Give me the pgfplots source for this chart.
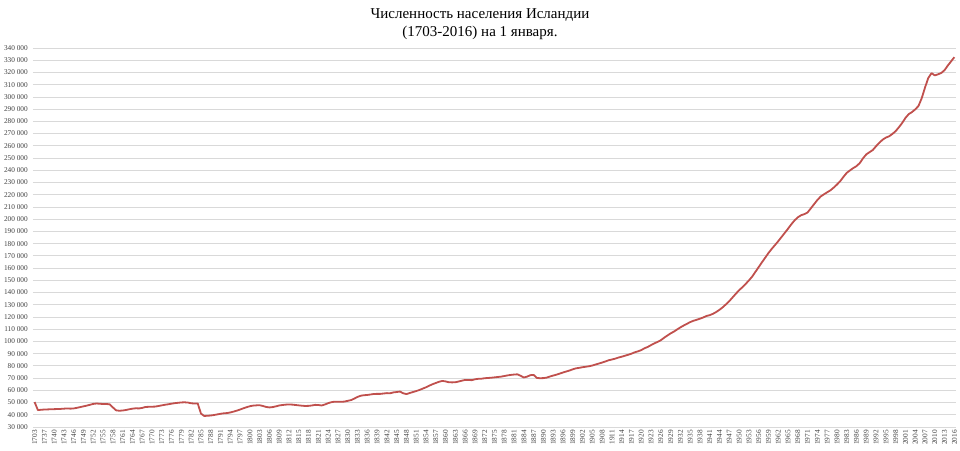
\documentclass[border=0pt]{standalone}
\usepackage{fontspec}
\setmainfont{Liberation Serif}
\usepackage{pgfplots}
\usepackage{pgfplotstable}
\pgfplotsset{compat=1.18}
\definecolor{popline}{RGB}{192,80,77}
\definecolor{gridc}{RGB}{217,217,217}
\pgfplotstableread{
year pop
1703 50400
1735 43800
1736 44100
1737 44300
1738 44400
1739 44500
1740 44600
1741 44700
1742 44800
1743 45000
1744 45200
1745 45000
1746 45200
1747 45700
1748 46300
1749 46900
1750 47500
1751 48200
1752 48900
1753 49200
1754 49000
1755 48800
1756 48800
1757 48600
1758 46000
1759 43600
1760 43300
1761 43500
1762 43900
1763 44500
1764 45000
1765 45300
1766 45200
1767 45600
1768 46400
1769 46500
1770 46600
1771 46700
1772 47200
1773 47700
1774 48200
1775 48600
1776 49100
1777 49500
1778 49800
1779 50100
1780 50200
1781 50000
1782 49400
1783 49200
1784 49300
1785 41000
1786 39000
1787 39200
1788 39400
1789 39800
1790 40300
1791 40800
1792 41200
1793 41400
1794 41900
1795 42600
1796 43400
1797 44300
1798 45300
1799 46200
1800 47000
1801 47500
1802 47700
1803 47800
1804 47200
1805 46400
1806 46000
1807 46300
1808 46900
1809 47600
1810 48000
1811 48300
1812 48400
1813 48300
1814 48000
1815 47700
1816 47400
1817 47200
1818 47300
1819 47600
1820 48100
1821 48000
1822 47600
1823 48400
1824 49500
1825 50300
1826 50700
1827 50600
1828 50600
1829 50800
1830 51400
1831 52000
1832 53200
1833 54600
1834 55600
1835 56000
1836 56200
1837 56600
1838 57000
1839 57100
1840 57100
1841 57400
1842 57700
1843 57600
1844 58300
1845 58600
1846 59000
1847 57600
1848 56900
1849 57800
1850 58600
1851 59400
1852 60300
1853 61400
1854 62500
1855 63800
1856 65000
1857 66000
1858 67000
1859 67700
1860 67300
1861 66600
1862 66500
1863 66600
1864 67200
1865 67900
1866 68500
1867 68500
1868 68300
1869 69000
1870 69400
1871 69500
1872 69900
1873 70100
1874 70300
1875 70600
1876 70900
1877 71200
1878 71700
1879 72200
1880 72600
1881 72900
1882 73100
1883 71900
1884 70500
1885 71200
1886 72400
1887 72600
1888 70100
1889 69900
1890 70000
1891 70400
1892 71300
1893 72100
1894 72800
1895 73700
1896 74600
1897 75400
1898 76200
1899 77200
1900 78000
1901 78400
1902 78900
1903 79300
1904 79700
1905 80300
1906 81100
1907 81900
1908 82700
1909 83600
1910 84600
1911 85200
1912 85900
1913 86800
1914 87500
1915 88300
1916 89100
1917 90000
1918 91100
1919 91900
1920 92900
1921 94400
1922 95500
1923 97000
1924 98400
1925 99600
1926 101000
1927 103000
1928 104800
1929 106600
1930 108000
1931 109800
1932 111500
1933 113000
1934 114400
1935 115800
1936 116900
1937 117700
1938 118600
1939 119600
1940 120800
1941 121500
1942 122600
1943 124100
1944 125900
1945 128000
1946 130400
1947 133000
1948 136000
1949 139000
1950 141900
1951 144300
1952 147000
1953 149900
1954 153000
1955 156900
1956 160800
1957 164700
1958 168500
1959 172300
1960 175700
1961 178800
1962 182000
1963 185400
1964 188800
1965 192200
1966 195800
1967 199000
1968 201500
1969 203200
1970 204100
1971 205500
1972 208900
1973 212300
1974 215700
1975 218500
1976 220300
1977 222000
1978 223600
1979 225800
1980 228300
1981 231100
1982 234600
1983 237900
1984 239900
1985 241800
1986 243400
1987 245900
1988 249800
1989 253000
1990 254800
1991 256600
1992 259700
1993 262500
1994 265000
1995 266700
1996 267800
1997 269700
1998 272000
1999 275200
2000 278700
2001 282800
2002 285900
2003 287600
2004 289800
2005 292600
2006 299000
2007 307700
2008 315500
2009 319400
2010 317600
2011 318500
2012 319600
2013 321900
2014 325700
2015 329100
2016 332500
}\poptable
\begin{document}
\begin{tikzpicture}
\begin{axis}[
  at={(0,0)}, anchor=south west,
  scale only axis, width=923bp, height=379bp,
  xmin=-0.5, xmax=282.5, ymin=30000, ymax=340000,
  ytick distance=10000,
  xtick={0,3,...,282},
  xticklabel={\pgfmathtruncatemacro\yr{ifthenelse(\tick<0.5,1703,1734+\tick)}\yr},
  scaled y ticks=false,
  /pgf/number format/fixed,
  /pgf/number format/1000 sep={\ },
  /pgf/number format/assume math mode=true,
  ymajorgrids, xmajorgrids=false,
  grid style={gridc, line width=0.8bp},
  axis line style={draw=none},
  major tick length=0pt,
  tick style={draw=none},
  tick label style={inner sep=0pt, font=\fontsize{7.3bp}{8bp}\selectfont, text=black!75},
  yticklabel shift=5bp,
  xticklabel shift=3bp,
  xticklabel style={rotate=90, anchor=east},
  title={Численность населения Исландии\\(1703-2016) на 1 января.},
  title style={at={(axis description cs:0.4843,1)}, anchor=south, yshift=2bp, align=center, inner sep=0pt, font=\fontsize{15bp}{18bp}\selectfont},
]
\addplot[popline, line width=1.8bp, line join=round, mark=none] table[x expr=\coordindex, y=pop] {\poptable};
\end{axis}
\pgfresetboundingbox
\path[use as bounding box] (-33bp,-24bp) rectangle (927bp,427bp);
\end{tikzpicture}
\end{document}
